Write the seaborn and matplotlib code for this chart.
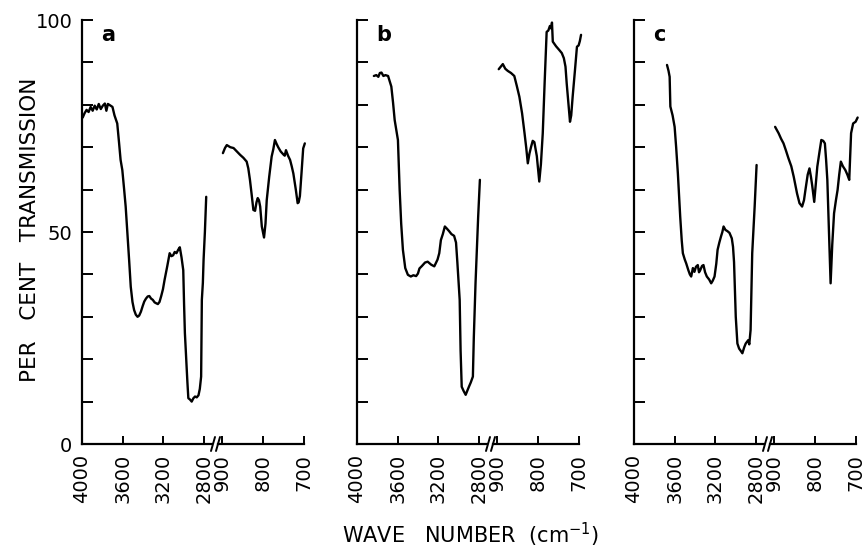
import numpy as np
import pandas as pd
import seaborn as sns
import matplotlib
matplotlib.use("Agg")
import matplotlib.pyplot as plt

# ---------------- data ----------------
panel_labels = ["a", "b", "c"]
hi_ticks = [4000, 3600, 3200, 2800]
lo_ticks = [900, 800, 700]
y_ticklabels = [0, 50, 100]

a_hi_wn = [3993, 3975, 3955, 3935, 3915, 3895, 3875, 3855, 3835, 3815, 3795, 3775, 3760, 3745, 3725,
           3700, 3680, 3653, 3635, 3620, 3603, 3585, 3570, 3553, 3535, 3520, 3503, 3487, 3470, 3453,
           3437, 3420, 3403, 3387, 3370, 3353, 3337, 3320, 3303, 3285, 3270, 3253, 3237, 3220, 3203,
           3187, 3160, 3137, 3120, 3103, 3087, 3070, 3053, 3037, 3020, 3003, 2995, 2987, 2978, 2970,
           2962, 2953, 2937, 2920, 2903, 2887, 2870, 2853, 2840, 2827, 2820, 2810, 2803, 2790, 2777]
a_hi_t = [77.0, 78.0, 78.8, 78.3, 79.5, 78.6, 79.8, 78.9, 80.2, 79.0, 79.8, 80.3, 78.6, 80.2, 79.9,
          79.5, 77.5, 75.6, 71.0, 67.0, 64.6, 60.0, 56.0, 49.7, 43.0, 37.1, 33.5, 31.6, 30.5, 30.0,
          30.3, 31.2, 32.5, 33.6, 34.3, 34.8, 34.9, 34.3, 34.0, 33.4, 33.2, 33.0, 33.5, 34.9, 36.5,
          38.7, 42.0, 45.0, 44.3, 44.5, 45.3, 45.0, 45.8, 46.4, 44.0, 41.0, 33.0, 26.2, 22.0, 18.2,
          14.5, 10.8, 10.5, 10.0, 10.8, 11.2, 11.0, 11.5, 13.0, 15.9, 34.0, 38.0, 43.4, 50.0, 58.3]
a_lo_wn = [898, 893, 888.5, 880, 872, 864, 856, 848, 840, 836, 832, 828, 823.6, 819.5, 816,
           813, 810, 807, 803, 797.6, 794, 791, 785, 779, 775, 771, 767, 763, 757, 750.5,
           747, 744, 739, 734, 730, 726, 720, 715.5, 713, 710, 706, 702, 698]
a_lo_t = [68.6, 69.8, 70.5, 70.0, 69.8, 69.0, 68.2, 67.5, 66.6, 65.0, 62.3, 59.0, 55.2, 55.0, 57.0,
          58.0, 57.5, 56.0, 51.3, 48.7, 52.0, 57.5, 63.0, 67.8, 69.5, 71.7, 70.8, 70.0, 69.0, 68.3,
          68.0, 69.3, 68.0, 67.0, 65.5, 63.8, 60.0, 56.8, 57.0, 58.5, 64.0, 69.7, 70.9]

b_hi_wn = [3834, 3810, 3790, 3775, 3759, 3740, 3720, 3694, 3662, 3645, 3629, 3597, 3580, 3565, 3548,
           3525, 3499, 3470, 3445, 3418, 3400, 3385, 3360, 3330, 3304, 3270, 3239, 3207, 3190, 3174,
           3155, 3135, 3115, 3093, 3070, 3044, 3025, 3012, 2989, 2980, 2969, 2950, 2930, 2915, 2898,
           2880, 2859, 2850, 2833, 2807, 2790]
b_hi_t = [86.8, 87.0, 86.6, 87.5, 87.6, 86.8, 87.0, 86.8, 84.3, 80.5, 76.4, 71.7, 59.9, 52.0, 45.8,
          41.5, 39.9, 39.5, 39.8, 39.6, 40.2, 41.4, 42.0, 42.8, 43.0, 42.3, 41.9, 43.5, 45.0, 48.1,
          49.5, 51.3, 50.8, 50.2, 49.5, 49.1, 47.5, 42.9, 34.0, 22.0, 13.5, 12.5, 11.6, 12.5, 13.5,
          14.5, 15.9, 25.0, 37.9, 53.6, 62.3]
b_lo_wn = [896, 891, 886, 880, 874, 866, 858, 852, 845.6, 839, 833, 829, 825, 821, 817,
           813, 809, 803, 797, 793, 788.5, 784, 779, 775, 771, 768, 766, 764, 756, 748,
           742, 737, 733, 730, 726, 722, 719, 715.5, 710, 705, 701, 698, 695]
b_lo_t = [88.4, 89.0, 89.6, 88.5, 88.0, 87.5, 86.8, 84.5, 81.9, 78.0, 73.3, 70.0, 66.2, 68.5, 70.1,
          71.5, 71.2, 67.9, 61.9, 66.0, 73.3, 85.0, 97.2, 97.5, 98.6, 98.0, 99.4, 94.9, 93.8, 92.9,
          92.2, 91.0, 89.0, 85.0, 80.5, 76.0, 77.5, 81.9, 88.0, 93.7, 94.0, 95.0, 96.5]

c_hi_wn = [3675, 3660, 3649, 3642, 3620, 3600, 3585, 3568, 3545, 3530, 3519, 3500, 3486, 3465, 3450,
           3437, 3420, 3405, 3390, 3372, 3360, 3348, 3330, 3316, 3300, 3283, 3260, 3240, 3225, 3207,
           3190, 3177, 3160, 3144, 3130, 3118, 3100, 3080, 3060, 3037, 3025, 3015, 2998, 2982, 2965,
           2950, 2933, 2915, 2900, 2875, 2865, 2852, 2836, 2812, 2793]
c_hi_t = [89.4, 88.0, 86.6, 79.6, 77.5, 74.8, 70.0, 63.8, 53.6, 48.0, 45.0, 43.5, 42.6, 41.0, 40.0,
          39.5, 41.5, 40.6, 41.8, 42.2, 40.5, 41.0, 42.0, 42.2, 40.5, 39.5, 38.8, 37.9, 38.5, 39.5,
          42.5, 45.8, 47.5, 48.9, 50.0, 51.3, 50.5, 50.2, 49.8, 48.5, 46.5, 42.9, 30.0, 23.7, 22.5,
          22.0, 21.4, 22.8, 23.7, 24.5, 23.5, 26.9, 45.0, 56.0, 65.8]
c_lo_wn = [897.5, 893, 889, 883, 877, 871, 865, 858, 852, 844, 838, 831.6, 827, 823.5, 818,
           813.6, 810, 807, 802, 798, 794.5, 789, 784.7, 780, 776, 773, 770, 766, 762, 758,
           753.6, 749, 745, 741, 737, 732, 726, 721, 716.5, 712, 707, 701, 696]
c_lo_t = [74.8, 74.0, 73.3, 72.0, 70.9, 69.2, 67.4, 65.5, 63.0, 59.1, 56.8, 56.0, 57.5, 59.9, 63.5,
          65.0, 63.0, 61.0, 57.1, 61.5, 65.4, 69.0, 71.7, 71.5, 70.9, 67.0, 62.3, 50.0, 37.9, 47.0,
          54.4, 57.5, 59.9, 63.5, 66.6, 65.5, 64.6, 63.5, 62.3, 73.3, 75.6, 76.0, 77.0]

panels = [
    (a_hi_wn, a_hi_t, a_lo_wn, a_lo_t),
    (b_hi_wn, b_hi_t, b_lo_wn, b_lo_t),
    (c_hi_wn, c_hi_t, c_lo_wn, c_lo_t),
]

# ---------------- style ----------------
sns.set_theme(style="ticks")
plt.rcParams["font.family"] = ["DejaVu Sans"]
for key in ("text.color", "axes.labelcolor", "xtick.color", "ytick.color", "axes.edgecolor"):
    plt.rcParams[key] = "black"
LW = 1.7
FS = 14

W, H = 867, 553
fig = plt.figure(figsize=(W / 100, H / 100), dpi=100)

y0_px, y100_px = 444, 20
ax_bottom = 1 - y0_px / H
ax_height = (y0_px - y100_px) / H
panel_x0 = [82, 357, 634]
hi_width = 130      # px for 4000 -> 2720
lo_start = 136      # px offset of right segment
lo_width = 86       # px for 910 -> 700

for i, (hw, ht, lw_, lt) in enumerate(panels):
    x0 = panel_x0[i]
    ax1 = fig.add_axes([x0 / W, ax_bottom, hi_width / W, ax_height])
    ax2 = fig.add_axes([(x0 + lo_start) / W, ax_bottom, lo_width / W, ax_height])

    df_hi = pd.DataFrame({"wn": hw, "T": ht})
    df_lo = pd.DataFrame({"wn": lw_, "T": lt})
    sns.lineplot(data=df_hi, x="wn", y="T", ax=ax1, color="black", lw=LW,
                 sort=False, estimator=None, clip_on=False)
    sns.lineplot(data=df_lo, x="wn", y="T", ax=ax2, color="black", lw=LW,
                 sort=False, estimator=None, clip_on=False)

    ax1.set_xlim(4000, 2720)
    ax2.set_xlim(910, 700)
    for ax in (ax1, ax2):
        ax.set_ylim(0, 100)
        ax.set_xlabel("")
        ax.set_ylabel("")
        ax.set_facecolor("none")
        ax.spines["top"].set_visible(False)
        ax.spines["right"].set_visible(False)
        ax.spines["bottom"].set_linewidth(1.6)
        ax.spines["left"].set_linewidth(1.6)
        ax.tick_params(axis="x", direction="in", length=6, width=1.4,
                       labelsize=FS, pad=7, labelrotation=90)
    ax2.spines["left"].set_visible(False)
    ax2.set_yticks([])

    ax1.set_xticks(hi_ticks)
    ax1.set_xticklabels([str(t) for t in hi_ticks], va="top")
    ax2.set_xticks(lo_ticks)
    ax2.set_xticklabels([str(t) for t in lo_ticks], va="top")

    ax1.set_yticks(np.arange(0, 101, 10))
    if i == 0:
        ax1.set_yticklabels([str(v) if v in y_ticklabels else "" for v in range(0, 101, 10)])
    else:
        ax1.set_yticklabels([])
    ax1.tick_params(axis="y", direction="in", length=8, width=1.4, labelsize=FS, pad=7)

    # broken-axis marks "//"
    for dx in (0.0, 5.0):
        fig.add_artist(plt.Line2D(
            [(x0 + hi_width + dx - 1) / W, (x0 + hi_width + dx + 3) / W],
            [ax_bottom - 7 / H, ax_bottom + 7 / H],
            transform=fig.transFigure, color="black", lw=1.4))

    ax1.text(0.15, 0.965, panel_labels[i], transform=ax1.transAxes,
             fontsize=FS + 1, fontweight="bold", ha="left", va="center")

fig.text(30 / W, 1 - 230 / H, "PER   CENT   TRANSMISSION", rotation=90,
         ha="center", va="center", fontsize=15.5)
fig.text(471 / W, 1 - 535 / H, "WAVE   NUMBER  (cm$^{-1}$)",
         ha="center", va="center", fontsize=15)

fig.savefig("out.png", dpi=100)
